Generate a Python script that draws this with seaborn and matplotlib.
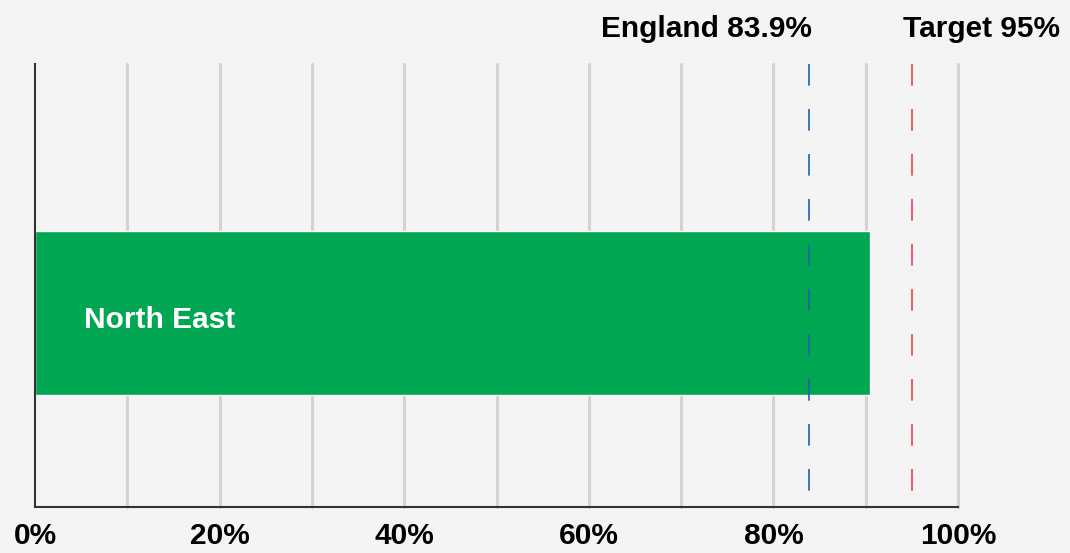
import matplotlib
matplotlib.use("Agg")
import matplotlib.pyplot as plt
import matplotlib.transforms as mtransforms
import pandas as pd
import seaborn as sns

regions = ["North East"]
coverage = [90.5]
england_value = 83.9
target_value = 95.0
x_ticks = [0, 20, 40, 60, 80, 100]
x_tick_labels = ["0%", "20%", "40%", "60%", "80%", "100%"]

bg = "#f4f4f4"
sns.set_style("white")
plt.rcParams["font.family"] = ["Liberation Sans", "DejaVu Sans"]

fig = plt.figure(figsize=(10.7, 5.53), dpi=100, facecolor=bg)
ax = fig.add_axes([35 / 1070, 46 / 553, 923 / 1070, 443 / 553])
ax.set_facecolor(bg)

df = pd.DataFrame({"region": regions, "coverage": coverage})
sns.barplot(data=df, x="coverage", y="region", orient="h", color="#00a651",
            saturation=1, width=0.8, ax=ax, zorder=2)

ax.set_xlim(0, 100)
ax.set_ylim(0.946, -1.215)

# gridlines every 10%
for gx in range(10, 101, 10):
    ax.axvline(gx, color="#d6d2cd", lw=2.2, zorder=1, clip_on=False)

# reference lines, dash pattern starting at the top
for val, col in [(england_value, "#1f63a8"), (target_value, "#ef3e4a")]:
    ax.plot([val, val], [-1.215, 0.87], color=col, lw=1.2,
            dashes=(13, 14), zorder=3)

fs = 21.5
trans = mtransforms.blended_transform_factory(ax.transData, fig.transFigure)
ax.text(84.2, 1 - 37 / 553, f"England {england_value}%", ha="right",
        va="baseline", fontsize=fs, fontweight="bold", color="black", transform=trans)
ax.text(94.0, 1 - 37 / 553, f"Target {target_value:.0f}%", ha="left",
        va="baseline", fontsize=fs, fontweight="bold", color="black", transform=trans)

ax.text(5.3, 0.073, regions[0], color="white", ha="left", va="baseline",
        fontsize=fs, fontweight="bold", zorder=4)

ax.set_xticks(x_ticks)
ax.set_xticklabels(x_tick_labels, fontsize=fs, fontweight="bold", color="black")
ax.tick_params(axis="x", length=0, pad=10.5)
ax.set_yticks([])
ax.set_xlabel("")
ax.set_ylabel("")

for side in ["top", "right"]:
    ax.spines[side].set_visible(False)
for side in ["left", "bottom"]:
    ax.spines[side].set_color("#333333")
    ax.spines[side].set_linewidth(1.5)

fig.savefig("out.png", dpi=100, facecolor=bg)
